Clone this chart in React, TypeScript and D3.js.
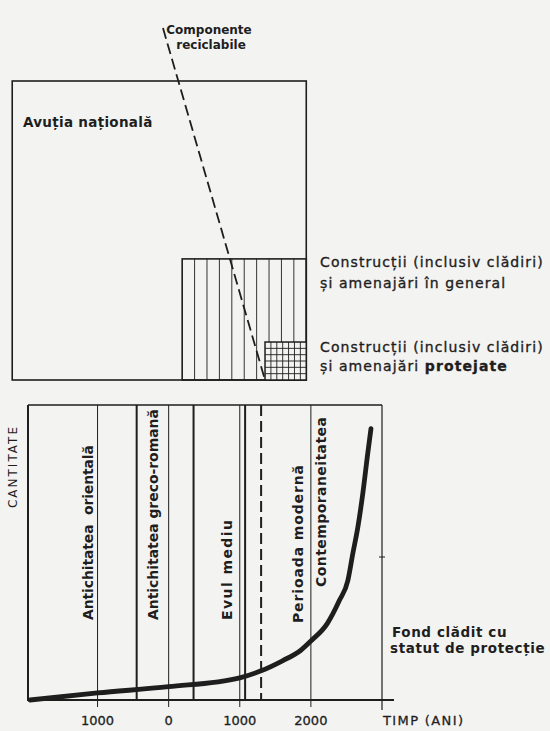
import React from 'react'
import * as d3 from 'd3'

// time axis (years), ticks drawn as thin grid lines
const tickYears = [-1000, 0, 1000, 2000]
const tickLabels = ['1000', '0', '1000', '2000']

// historical periods and the years that separate them
const periodNames = [
  'Antichitatea  orientală',
  'Antichitatea greco-romană',
  'Evul mediu',
  'Perioada modernă',
  'Contemporaneitatea',
]
const periodDividers = [-450, 350, 1075]
const modernStart = 1300

// quantity curve (arbitrary units 0-100)
const curveYears = [-1950, -1000, 0, 1000, 1300, 1600, 1850, 2000, 2230, 2400, 2520, 2590, 2660, 2730, 2800, 2845]
const curveQty = [0, 2.4, 4.5, 7.5, 9.9, 13.3, 16.7, 20, 25.9, 33.7, 40.5, 49.7, 58.5, 70, 83.7, 92]

// upper diagram: nested stocks
const boxFrom = [-2200, 190, 1355]
const boxTo = [1935, 1935, 1935]
const boxLevel = [100, 40.5, 12.7]

const recycleYears = [-80, 1355]
const recycleLevel = [117.7, 0]

const W = 550
const H = 731
const INK = '#1e1e1e'
const PAPER = '#f3f3f2'
const FONT = '"DejaVu Sans", sans-serif'

export default function App() {
  const x = d3.scaleLinear().domain([-1950, 3000]).range([30, 382])
  const yLow = d3.scaleLinear().domain([0, 100]).range([700, 405])
  const yUp = d3.scaleLinear().domain([0, 100]).range([380, 81])

  const curve = d3
    .line<number>()
    .x((d) => x(curveYears[d]))
    .y((d) => yLow(curveQty[d]))
    .curve(d3.curveMonotoneX)(d3.range(curveYears.length))

  // label placement (years on x, pixel bottom and length of the rotated text)
  const labelYears = [-1130, -220, 820, 1820, 2140]
  const labelBottom = [620, 620, 620, 623, 587]
  const labelLen = [175, 211, 100, 158, 170]

  const wealth = { x0: x(boxFrom[0]), x1: x(boxTo[0]), y0: yUp(boxLevel[0]), y1: yUp(0) }
  const built = { x0: x(boxFrom[1]), x1: x(boxTo[1]), y0: yUp(boxLevel[1]), y1: yUp(0) }
  const prot = { x0: x(boxFrom[2]), x1: x(boxTo[2]), y0: yUp(boxLevel[2]), y1: yUp(0) }

  const stripes = d3.range(1, 10).map((i) => built.x0 + (i * (built.x1 - built.x0)) / 10)
  const gridV = d3.range(1, 7).map((i) => prot.x0 + (i * (prot.x1 - prot.x0)) / 7)
  const gridH = d3.range(1, 6).map((i) => prot.y0 + (i * (prot.y1 - prot.y0)) / 6)

  const top = yLow(100)
  const base = yLow(0)

  return (
    <svg
      width={W}
      height={H}
      style={{ position: 'absolute', left: 0, top: 0, background: PAPER }}
      fontFamily={FONT}
    >
      {/* ---------- upper diagram ---------- */}
      <rect
        x={wealth.x0}
        y={wealth.y0}
        width={wealth.x1 - wealth.x0}
        height={wealth.y1 - wealth.y0}
        fill="none"
        stroke={INK}
        strokeWidth={1.6}
      />
      <text x={23} y={127} fontSize={13.5} fontWeight="bold" letterSpacing={0.3} fill={INK}>
        Avuția națională
      </text>

      <rect
        x={built.x0}
        y={built.y0}
        width={built.x1 - built.x0}
        height={built.y1 - built.y0}
        fill="none"
        stroke={INK}
        strokeWidth={1.6}
      />
      {stripes.map((sx, i) => (
        <line key={i} x1={sx} x2={sx} y1={built.y0} y2={built.y1} stroke={INK} strokeWidth={0.9} />
      ))}

      <rect
        x={prot.x0}
        y={prot.y0}
        width={prot.x1 - prot.x0}
        height={prot.y1 - prot.y0}
        fill={PAPER}
        stroke={INK}
        strokeWidth={1.5}
      />
      {gridV.map((gx, i) => (
        <line key={'v' + i} x1={gx} x2={gx} y1={prot.y0} y2={prot.y1} stroke={INK} strokeWidth={0.9} />
      ))}
      {gridH.map((gy, i) => (
        <line key={'h' + i} x1={prot.x0} x2={prot.x1} y1={gy} y2={gy} stroke={INK} strokeWidth={0.9} />
      ))}

      <line
        x1={x(recycleYears[0])}
        y1={yUp(recycleLevel[0])}
        x2={x(recycleYears[1])}
        y2={yUp(recycleLevel[1])}
        stroke={INK}
        strokeWidth={1.8}
        strokeDasharray="11 5"
      />
      <text fontSize={12} fontWeight="bold" fill={INK} textAnchor="middle">
        <tspan x={209} y={34}>Componente</tspan>
        <tspan x={211} y={49}>reciclabile</tspan>
      </text>

      <text fontSize={14} letterSpacing={1.1} fill={INK} stroke={INK} strokeWidth={0.35}>
        <tspan x={320} y={267}>Construcții (inclusiv clădiri)</tspan>
        <tspan x={320} y={288}>și amenajări în general</tspan>
      </text>
      <text fontSize={14} letterSpacing={1.1} fill={INK} stroke={INK} strokeWidth={0.35}>
        <tspan x={320} y={352}>Construcții (inclusiv clădiri)</tspan>
        <tspan x={320} y={371}>
          și amenajări <tspan fontWeight="bold">protejate</tspan>
        </tspan>
      </text>

      {/* ---------- lower chart ---------- */}
      <line x1={x.range()[0] - 2} x2={x.range()[1]} y1={top} y2={top} stroke={INK} strokeWidth={1.4} />
      <line x1={x.range()[0] - 2} x2={x.range()[0] - 2} y1={top} y2={base} stroke={INK} strokeWidth={2} />
      <line x1={x.range()[1]} x2={x.range()[1]} y1={top} y2={base + 10} stroke={INK} strokeWidth={1.2} />
      <line x1={x.range()[1] - 3} x2={x.range()[1] + 3} y1={557} y2={557} stroke={INK} strokeWidth={1} />

      {tickYears.map((t, i) => (
        <g key={t}>
          <line x1={x(t)} x2={x(t)} y1={top} y2={base + 7} stroke={INK} strokeWidth={1} />
          <text x={x(t)} y={725} fontSize={13} textAnchor="middle" fill={INK} stroke={INK} strokeWidth={0.3}>
            {tickLabels[i]}
          </text>
        </g>
      ))}

      {periodDividers.map((d) => (
        <line key={d} x1={x(d)} x2={x(d)} y1={top} y2={base} stroke={INK} strokeWidth={2} />
      ))}
      <line
        x1={x(modernStart)}
        x2={x(modernStart)}
        y1={top}
        y2={base}
        stroke={INK}
        strokeWidth={2}
        strokeDasharray="11 5"
      />

      <line x1={x.range()[0] - 3} x2={x.range()[1] + 12} y1={base} y2={base} stroke={INK} strokeWidth={2} />

      {periodNames.map((p, i) => (
        <text
          key={p}
          transform={`translate(${x(labelYears[i])},${labelBottom[i]}) rotate(-90)`}
          dy="0.36em"
          fontSize={14}
          fontWeight="bold"
          textLength={labelLen[i]}
          lengthAdjust="spacing"
          fill={INK}
          style={{ whiteSpace: 'pre' }}
        >
          {p}
        </text>
      ))}

      <text
        transform="translate(13,508) rotate(-90)"
        dy="0.36em"
        fontSize={12}
        textLength={81}
        lengthAdjust="spacing"
        fill={INK}
      >
        CANTITATE
      </text>

      <path d={curve ?? ''} fill="none" stroke={INK} strokeWidth={4.8} strokeLinecap="round" />

      <text fontSize={13.5} fontWeight="bold" letterSpacing={0.6} fill={INK}>
        <tspan x={392} y={637}>Fond clădit cu</tspan>
        <tspan x={390} y={653}>statut de protecție</tspan>
      </text>
      <text
        x={383}
        y={725}
        fontSize={13}
        textLength={80}
        lengthAdjust="spacing"
        fill={INK}
        stroke={INK}
        strokeWidth={0.3}
      >
        TIMP (ANI)
      </text>
    </svg>
  )
}
